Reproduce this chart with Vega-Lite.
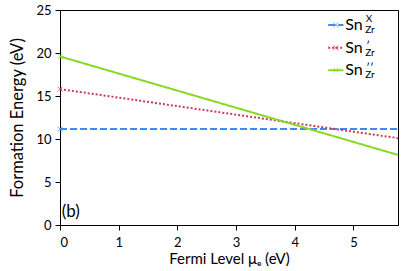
{
  "$schema": "https://vega.github.io/schema/vega-lite/v6.json",
  "width": 338,
  "height": 215,
  "autosize": "none",
  "padding": {"left": 60, "top": 10, "right": 17, "bottom": 46},
  "background": "white",
  "config": {
    "font": "Lato",
    "view": {"stroke": "black", "strokeWidth": 1},
    "axis": {
      "grid": false,
      "domainColor": "black",
      "tickColor": "black",
      "labelColor": "black",
      "titleColor": "black",
      "labelFont": "Lato",
      "titleFont": "Lato",
      "labelFontSize": 13,
      "titleFontSize": 15,
      "titleFontWeight": "normal",
      "tickSize": 5
    }
  },
  "datasets": {
    "lines": [
      {"series": "X", "mu": 0, "E": 11.15},
      {"series": "X", "mu": 5.76, "E": 11.15},
      {"series": "p1", "mu": 0, "E": 15.8},
      {"series": "p1", "mu": 5.76, "E": 10.1},
      {"series": "p2", "mu": 0, "E": 19.6},
      {"series": "p2", "mu": 5.76, "E": 8.15}
    ],
    "legend": [
      {"series": "X", "sup": "X", "ly": 23.25},
      {"series": "p1", "sup": "′", "ly": 20.6},
      {"series": "p2", "sup": "′′", "ly": 18.0}
    ]
  },
  "layer": [
    {
      "data": {"name": "lines"},
      "mark": {"type": "line", "strokeWidth": 2},
      "encoding": {
        "x": {"field": "mu", "type": "quantitative", "scale": {"domain": [0, 5.76], "nice": false, "zero": false},
          "axis": {"values": [0, 1, 2, 3, 4, 5], "format": "d", "title": "Fermi Level μₑ (eV)", "labelPadding": 6, "titlePadding": 2}},
        "y": {"field": "E", "type": "quantitative", "scale": {"domain": [0, 25], "nice": false},
          "axis": {"values": [0, 5, 10, 15, 20, 25], "title": "Formation Energy (eV)", "titleFontSize": 16.5, "labelPadding": 4, "titlePadding": 10}},
        "color": {"field": "series", "type": "nominal", "scale": {"domain": ["X", "p1", "p2"], "range": ["#3d8bf2", "#cc3a5a", "#86d925"]}, "legend": null},
        "strokeDash": {"field": "series", "type": "nominal", "scale": {"domain": ["X", "p1", "p2"], "range": [[7, 3], [2, 2], [1, 0]]}, "legend": null}
      }
    },
    {
      "data": {"name": "lines"},
      "transform": [{"filter": "datum.mu == 0"}],
      "mark": {"type": "point", "shape": "M-1,-1L1,1M-1,1L1,-1", "filled": false, "size": 25, "strokeWidth": 1},
      "encoding": {
        "x": {"field": "mu", "type": "quantitative"},
        "y": {"field": "E", "type": "quantitative"},
        "color": {"field": "series", "type": "nominal", "legend": null}
      }
    },
    {
      "data": {"name": "legend"},
      "mark": {"type": "rule", "strokeWidth": 2},
      "encoding": {
        "x": {"datum": 4.57},
        "x2": {"datum": 4.83},
        "y": {"field": "ly", "type": "quantitative"},
        "color": {"field": "series", "type": "nominal", "legend": null},
        "strokeDash": {"field": "series", "type": "nominal", "legend": null}
      }
    },
    {
      "data": {"name": "legend"},
      "mark": {"type": "point", "shape": "M-1,-1L1,1M-1,1L1,-1", "filled": false, "size": 25, "strokeWidth": 1},
      "encoding": {
        "x": {"datum": 4.70},
        "y": {"field": "ly", "type": "quantitative"},
        "color": {"field": "series", "type": "nominal", "legend": null}
      }
    },
    {
      "data": {"name": "legend"},
      "mark": {"type": "text", "text": "Sn", "align": "left", "baseline": "middle", "fontSize": 16, "color": "black", "font": "Lato"},
      "encoding": {
        "x": {"datum": 4.86},
        "y": {"field": "ly", "type": "quantitative"}
      }
    },
    {
      "data": {"name": "legend"},
      "transform": [{"filter": "datum.series == 'X'"}],
      "mark": {"type": "text", "align": "left", "baseline": "alphabetic", "fontSize": 10, "dy": -3, "color": "black", "font": "Lato"},
      "encoding": {
        "x": {"datum": 5.21},
        "y": {"field": "ly", "type": "quantitative"},
        "text": {"field": "sup"}
      }
    },
    {
      "data": {"name": "legend"},
      "transform": [{"filter": "datum.series != 'X'"}],
      "mark": {"type": "text", "align": "left", "baseline": "alphabetic", "fontSize": 11, "dy": 2, "color": "black", "font": "Lato"},
      "encoding": {
        "x": {"datum": 5.22},
        "y": {"field": "ly", "type": "quantitative"},
        "text": {"field": "sup"}
      }
    },
    {
      "data": {"name": "legend"},
      "mark": {"type": "text", "text": "Zr", "align": "left", "baseline": "middle", "fontSize": 10, "dy": 5, "color": "black", "font": "Lato"},
      "encoding": {
        "x": {"datum": 5.2},
        "y": {"field": "ly", "type": "quantitative"}
      }
    },
    {
      "data": {"values": [{}]},
      "mark": {"type": "text", "text": "(b)", "align": "left", "baseline": "middle", "fontSize": 17, "color": "black", "font": "Lato"},
      "encoding": {
        "x": {"datum": 0.03},
        "y": {"datum": 1.5}
      }
    }
  ]
}
